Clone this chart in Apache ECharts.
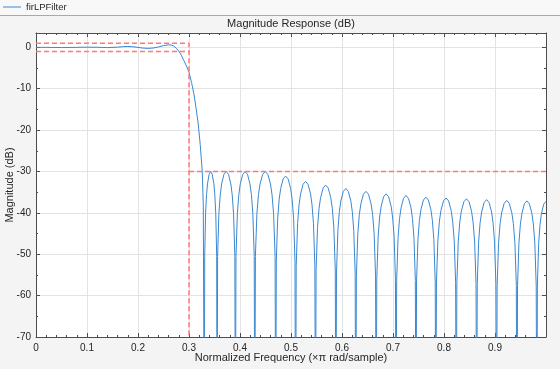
<!DOCTYPE html>
<html><head><meta charset="utf-8">
<script src="https://cdn.jsdelivr.net/npm/echarts@6/dist/echarts.min.js"></script>
<style>html,body{margin:0;padding:0;background:#f4f4f4;}#c{width:560px;height:369px;}</style>
</head><body><div id="c"></div>
<script>
// Magnitude response (dB)
const freq = [
 0, 0.02, 0.05, 0.08, 0.10, 0.12, 0.14, 0.16, 0.17, 0.18, 0.19, 0.20, 0.21, 0.22, 0.23, 0.24, 0.25, 0.26, 0.265, 0.27, 0.275, 0.28, 0.285, 0.29, 0.295, 0.30, 0.305, 0.31, 0.314, 0.318, 0.322, 0.326, 0.328, 0.330,
 0.3308, 0.3325, 0.3344, 0.3363, 0.3394, 0.3425, 0.3456, 0.3488, 0.3506, 0.3525, 0.3543, 0.355,
 0.3561, 0.3586, 0.3613, 0.364, 0.3685, 0.373, 0.3775, 0.382, 0.3847, 0.3874, 0.3899, 0.391,
 0.3921, 0.3948, 0.3977, 0.4005, 0.4053, 0.410, 0.4148, 0.4195, 0.4224, 0.4252, 0.4279, 0.429,
 0.4302, 0.4331, 0.4362, 0.4393, 0.4444, 0.4495, 0.4546, 0.4598, 0.4628, 0.4659, 0.4688, 0.470,
 0.4712, 0.4739, 0.4768, 0.4798, 0.4846, 0.4895, 0.4944, 0.4993, 0.5022, 0.5051, 0.5078, 0.509,
 0.5102, 0.5129, 0.5158, 0.5188, 0.5236, 0.5285, 0.5334, 0.5383, 0.5412, 0.5441, 0.5468, 0.548,
 0.5492, 0.552, 0.555, 0.558, 0.563, 0.568, 0.573, 0.578, 0.581, 0.584, 0.5868, 0.588,
 0.5892, 0.5919, 0.5948, 0.5978, 0.6026, 0.6075, 0.6124, 0.6173, 0.6202, 0.6231, 0.6258, 0.627,
 0.6282, 0.631, 0.634, 0.637, 0.642, 0.647, 0.652, 0.657, 0.660, 0.663, 0.6658, 0.667,
 0.6682, 0.6709, 0.6738, 0.6768, 0.6816, 0.6865, 0.6914, 0.6963, 0.6992, 0.7021, 0.7048, 0.706,
 0.7072, 0.7099, 0.7128, 0.7158, 0.7206, 0.7255, 0.7304, 0.7353, 0.7382, 0.7411, 0.7438, 0.745,
 0.7462, 0.7489, 0.7518, 0.7548, 0.7596, 0.7645, 0.7694, 0.7743, 0.7772, 0.7801, 0.7828, 0.784,
 0.7852, 0.788, 0.791, 0.794, 0.799, 0.804, 0.809, 0.814, 0.817, 0.820, 0.8228, 0.824,
 0.8252, 0.828, 0.831, 0.834, 0.839, 0.844, 0.849, 0.854, 0.857, 0.860, 0.8628, 0.864,
 0.8652, 0.8679, 0.8708, 0.8738, 0.8786, 0.8835, 0.8884, 0.8933, 0.8962, 0.8991, 0.9018, 0.903,
 0.9042, 0.907, 0.910, 0.913, 0.918, 0.923, 0.928, 0.933, 0.936, 0.939, 0.9418, 0.943,
 0.9442, 0.9469, 0.9498, 0.9528, 0.9576, 0.9625, 0.9674, 0.9723, 0.9752, 0.9781, 0.9808, 0.982,
 0.9831, 0.9856, 0.9883, 0.991, 0.9955, 1.0
];
const magDb = [
 0, 0, -0.04, 0, 0.05, 0.02, -0.05, 0.05, 0.17, 0.22, 0.15, 0.0, -0.18, -0.25, -0.15, 0.1, 0.42, 0.6, 0.58, 0.35, -0.2, -0.9, -1.9, -3.2, -4.5, -6, -8.5, -11.5, -14.8, -18.4, -23.5, -30, -38, -100,
 -50.5, -40.2, -35.6, -33, -30.7, -30, -30.7, -33, -35.6, -40.2, -50.5, -100,
 -50.5, -40.2, -35.6, -33, -30.7, -30, -30.7, -33, -35.6, -40.2, -50.5, -100,
 -50.5, -40.2, -35.6, -33, -30.7, -30, -30.7, -33, -35.6, -40.2, -50.5, -100,
 -50.5, -40.2, -35.6, -33, -30.7, -30, -30.7, -33, -35.6, -40.2, -50.5, -100,
 -51.6, -41.3, -36.7, -34.1, -31.8, -31.1, -31.8, -34.1, -36.7, -41.3, -51.6, -100,
 -52.9, -42.6, -38, -35.4, -33.1, -32.4, -33.1, -35.4, -38, -42.6, -52.9, -100,
 -53.8, -43.5, -38.9, -36.3, -34, -33.3, -34, -36.3, -38.9, -43.5, -53.8, -100,
 -54.6, -44.3, -39.7, -37.1, -34.8, -34.1, -34.8, -37.1, -39.7, -44.3, -54.6, -100,
 -55.3, -45, -40.4, -37.8, -35.5, -34.8, -35.5, -37.8, -40.4, -45, -55.3, -100,
 -55.9, -45.6, -41, -38.4, -36.1, -35.4, -36.1, -38.4, -41, -45.6, -55.9, -100,
 -56.3, -46, -41.4, -38.8, -36.5, -35.8, -36.5, -38.8, -41.4, -46, -56.3, -100,
 -56.7, -46.4, -41.8, -39.2, -36.9, -36.2, -36.9, -39.2, -41.8, -46.4, -56.7, -100,
 -56.9, -46.6, -42, -39.4, -37.1, -36.4, -37.1, -39.4, -42, -46.6, -56.9, -100,
 -57.1, -46.8, -42.2, -39.6, -37.3, -36.6, -37.3, -39.6, -42.2, -46.8, -57.1, -100,
 -57.3, -47, -42.4, -39.8, -37.5, -36.8, -37.5, -39.8, -42.4, -47, -57.3, -100,
 -57.5, -47.2, -42.6, -40, -37.7, -37, -37.7, -40, -42.6, -47.2, -57.5, -100,
 -57.6, -47.3, -42.7, -40.1, -37.8, -37.1, -37.8, -40.1, -42.7, -47.3, -57.6, -100,
 -57.7, -47.4, -42.8, -40.2, -37.9, -37.2
];
// Specification mask lines
const maskUpperF = [0, 0.3, 0.3];
const maskUpperDb = [1, 1, -100];
const maskLowerF = [0, 0.3];
const maskLowerDb = [-1, -1];
const maskStopF = [0.3, 1];
const maskStopDb = [-30, -30];
// Tick labels
const xTicks = ['0','0.1','0.2','0.3','0.4','0.5','0.6','0.7','0.8','0.9'];
const yTicks = ['0','-10','-20','-30','-40','-50','-60','-70'];

const zip = (a, b) => a.map((v, i) => [v, b[i]]);
const FONT = '"Liberation Sans", Arial, Helvetica, sans-serif';
const AX = '#4d4d4d';
const TXT = '#262626';
const GRIDC = '#e3e3e3';
const MASKC = '#ff7878';
const maskStyle = () => ({ color: MASKC, width: 1.5, type: [5, 3], opacity: 1 });

const chart = echarts.init(document.getElementById('c'), null, { renderer: 'canvas' });
const baseX = {
  type: 'value', min: 0, max: 1, interval: 0.1,
  axisLine: { show: true, onZero: false, lineStyle: { color: AX, width: 1 } },
  axisTick: { show: true, inside: true, length: 4, lineStyle: { color: AX } },
  minorTick: { show: true, splitNumber: 5, length: 2, lineStyle: { color: AX } },
  splitLine: { show: false }
};
const baseY = {
  type: 'value', min: -70, max: 3.474, interval: 10,
  axisLine: { show: true, onZero: false, lineStyle: { color: AX, width: 1 } },
  axisTick: { show: true, inside: true, length: 4, lineStyle: { color: AX } },
  minorTick: { show: true, splitNumber: 2, length: 2, lineStyle: { color: AX } },
  splitLine: { show: false }
};
chart.setOption({
  backgroundColor: '#f4f4f4',
  animation: false,
  textStyle: { fontFamily: FONT },
  graphic: [
    { type: 'rect', shape: { x: 0, y: 0, width: 560, height: 15 }, style: { fill: '#f8f8f8' }, z: -1 },
    { type: 'line', shape: { x1: 0, y1: 15.5, x2: 560, y2: 15.5 }, style: { stroke: '#a9a9a9', lineWidth: 1 }, z: -1 }
  ],
  title: {
    text: 'Magnitude Response (dB)', left: 291, top: 18, padding: 0, textAlign: 'center',
    textStyle: { fontFamily: FONT, fontSize: 11, fontWeight: 'normal', color: TXT }
  },
  legend: {
    data: ['firLPFilter'], left: 3, top: 2, padding: 0, icon: 'rect', itemWidth: 18, itemHeight: 1, itemGap: 4,
    textStyle: { fontFamily: FONT, fontSize: 9.5, color: TXT }
  },
  grid: { left: 36, right: 14, top: 33, bottom: 32, containLabel: false, outerBoundsMode: 'none',
    show: true, backgroundColor: '#ffffff', borderWidth: 0 },
  xAxis: [
    Object.assign({}, baseX, {
      position: 'bottom',
      splitLine: { show: true, lineStyle: { color: GRIDC, width: 1 } },
      axisLabel: { show: true, color: TXT, fontSize: 10, margin: 6, showMaxLabel: false,
        formatter: v => { const i = Math.round(v * 10); return xTicks[i] !== undefined ? xTicks[i] : ''; } },
      name: 'Normalized Frequency (\u00d7\u03c0 rad/sample)', nameLocation: 'middle', nameGap: 15,
      nameMoveOverlap: false,
      nameTextStyle: { color: TXT, fontSize: 11, fontFamily: FONT }
    }),
    Object.assign({}, baseX, { position: 'top', axisLabel: { show: false } })
  ],
  yAxis: [
    Object.assign({}, baseY, {
      position: 'left',
      splitLine: { show: true, lineStyle: { color: GRIDC, width: 1 } },
      axisLabel: { show: true, color: TXT, fontSize: 10, margin: 5, showMaxLabel: false,
        formatter: v => { const i = Math.round(-v / 10); return (Math.abs(v + i * 10) < 1e-6 && yTicks[i] !== undefined) ? yTicks[i] : ''; } },
      name: 'Magnitude (dB)', nameLocation: 'middle', nameGap: 21, nameRotate: 90,
      nameMoveOverlap: false,
      nameTextStyle: { color: TXT, fontSize: 11, fontFamily: FONT }
    }),
    Object.assign({}, baseY, { position: 'right', axisLabel: { show: false } })
  ],
  series: [
    { name: 'firLPFilter', type: 'line', data: zip(freq, magDb), showSymbol: false, symbol: 'none',
      smooth: false, clip: true, color: '#3a88d2',
      lineStyle: { color: '#3a88d2', width: 1 }, z: 4 },
    { name: 'maskUpper', type: 'line', data: zip(maskUpperF, maskUpperDb), showSymbol: false, symbol: 'none',
      color: MASKC, lineStyle: maskStyle(), clip: true, silent: true, z: 5 },
    { name: 'maskLower', type: 'line', data: zip(maskLowerF, maskLowerDb), showSymbol: false, symbol: 'none',
      color: MASKC, lineStyle: maskStyle(), clip: true, silent: true, z: 5 },
    { name: 'maskStop', type: 'line', data: zip(maskStopF, maskStopDb), showSymbol: false, symbol: 'none',
      color: MASKC, lineStyle: maskStyle(), clip: true, silent: true, z: 5 }
  ]
});
</script>
</body></html>
